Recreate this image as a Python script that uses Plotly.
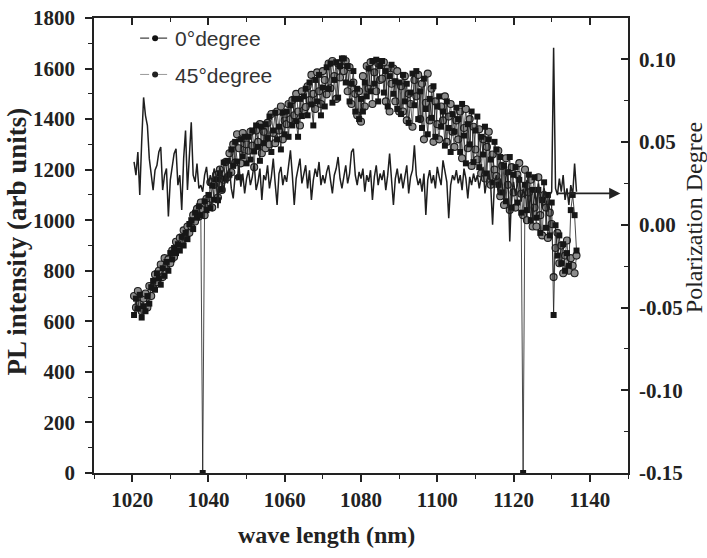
import plotly.graph_objects as go

# ---------------- data ----------------
wl_int = [1020.5 + 0.5 * i for i in range(233)]  # wavelength grid for intensities (nm)

pl_0deg = [
    625, 690, 650, 705, 615, 660, 640, 700, 670, 735,
    760, 725, 790, 770, 745, 810, 780, 835, 800, 870,
    845, 890, 870, 905, 880, 935, 900, 950, 925, 985,
    1000, 965, 1030, 1010, 1055, 1020, 0, 1075, 1040, 1100,
    1048, 1137, 1081, 1162, 1079, 1186, 1121, 1228, 1164, 1235,
    1180, 1280, 1215, 1310, 1232, 1170, 1320, 1252, 1330, 1225,
    1330, 1240, 1355, 1272, 1375, 1290, 1235, 1370, 1305, 1380,
    1325, 1410, 1270, 1355, 1425, 1320, 1370, 1280, 1425, 1340,
    1430, 1330, 1455, 1375, 1480, 1392, 1330, 1480, 1412, 1490,
    1520, 1415, 1545, 1458, 1375, 1555, 1470, 1575, 1415, 1525,
    1450, 1605, 1520, 1620, 1465, 1555, 1625, 1485, 1610, 1640,
    1640, 1545, 1610, 1470, 1540, 1590, 1430, 1520, 1400, 1480,
    1430, 1545, 1490, 1600, 1510, 1630, 1540, 1635, 1470, 1610,
    1630, 1505, 1590, 1450, 1570, 1615, 1500, 1550, 1440, 1545,
    1420, 1575, 1470, 1540, 1385, 1505, 1580, 1455, 1590, 1400,
    1510, 1365, 1560, 1440, 1340, 1480, 1405, 1530, 1330, 1450,
    1490, 1370, 1430, 1295, 1470, 1365, 1270, 1420, 1350, 1445,
    1400, 1270, 1460, 1335, 1225, 1380, 1300, 1430, 1230, 1355,
    1410, 1210, 1330, 1260, 1370, 1185, 1320, 1240, 1150, 1310,
    1280, 1140, 1250, 1110, 1215, 1075, 1190, 1250, 1050, 1180,
    1210, 1070, 1160, 1030, 0, 1140, 1040, 1180, 1000, 1120,
    1170, 1010, 1120, 950, 1080, 1150, 970, 1100, 940, 1070,
    625, 980, 860, 940, 830, 905, 800, 870, 820, 1040,
    1100, 1020, 880,
]

pl_45deg = [
    700, 655, 720, 670, 640, 690, 710, 655, 740, 700,
    735, 785, 755, 800, 825, 775, 850, 820, 845, 830,
    880, 855, 915, 890, 930, 910, 960, 935, 975, 950,
    975, 1020, 995, 1045, 1015, 1070, 1040, 1020, 1085, 1060,
    1150, 1050, 1140, 1180, 1090, 1200, 1120, 1160, 1230, 1170,
    1265, 1190, 1300, 1228, 1340, 1285, 1225, 1345, 1280, 1300,
    1275, 1350, 1295, 1210, 1355, 1310, 1380, 1265, 1350, 1285,
    1385, 1300, 1420, 1345, 1305, 1430, 1355, 1450, 1320, 1395,
    1380, 1460, 1400, 1475, 1415, 1500, 1430, 1375, 1510, 1435,
    1448, 1530, 1475, 1575, 1500, 1440, 1585, 1510, 1460, 1590,
    1555, 1498, 1620, 1522, 1630, 1570, 1480, 1620, 1565, 1605,
    1590, 1630, 1510, 1605, 1460, 1545, 1500, 1415, 1510, 1390,
    1570, 1450, 1610, 1520, 1625, 1460, 1585, 1510, 1620, 1555,
    1560, 1625, 1470, 1600, 1430, 1540, 1600, 1470, 1590, 1430,
    1530, 1430, 1570, 1395, 1500, 1460, 1370, 1555, 1490, 1575,
    1400, 1540, 1320, 1465, 1580, 1395, 1520, 1310, 1470, 1380,
    1320, 1450, 1395, 1490, 1310, 1410, 1460, 1350, 1290, 1395,
    1320, 1430, 1245, 1365, 1440, 1285, 1400, 1215, 1370, 1280,
    1240, 1360, 1185, 1320, 1165, 1290, 1350, 1140, 1260, 1200,
    1175, 1275, 1095, 1215, 1060, 1245, 1140, 1040, 1210, 1110,
    1050, 1180, 1226, 1105, 1020, 1200, 1000, 1110, 1160, 975,
    1050, 975, 1170, 1020, 940, 1100, 1050, 930, 1030, 985,
    775, 890, 950, 830, 900, 790, 860, 920, 800, 850,
    820, 790, 860,
]

wl_pol = [1020.5 + 0.5 * i for i in range(233)]  # wavelength grid for polarization (nm)

pol_degree = [
    0.038, 0.030, 0.044, 0.018, 0.050, 0.077, 0.066, 0.060, 0.040, 0.030,
    0.021, 0.033, 0.036, 0.044, 0.047, 0.021, 0.030, 0.034, 0.005, 0.027,
    0.035, 0.043, 0.046, 0.024, 0.030, 0.009, 0.040, 0.057, 0.021, 0.044,
    0.062, 0.030, 0.026, 0.037, 0.022, 0.024, 0.020, 0.030, 0.035, 0.024,
    0.030, 0.026, 0.034, 0.030, 0.010, 0.035, 0.028, 0.020, 0.031, 0.025,
    0.034, 0.022, 0.016, 0.030, 0.027, 0.036, 0.023, 0.031, 0.019, 0.028,
    0.033, 0.024, 0.029, 0.037, 0.021, 0.026, 0.034, 0.015, 0.030, 0.027,
    0.036, 0.022, 0.029, 0.040, 0.025, 0.012, 0.031, 0.035, 0.024, 0.030,
    0.026, 0.037, 0.045, 0.030, 0.012, 0.028, 0.034, 0.040, 0.025, 0.031,
    0.036, 0.022, 0.033, 0.015, 0.027, 0.034, 0.029, 0.038, 0.024, 0.030,
    0.025, 0.032, 0.036, 0.027, 0.019, 0.030, 0.034, 0.041, 0.028, 0.022,
    0.030, 0.036, 0.025, 0.031, 0.044, 0.046, 0.030, 0.024, 0.032, 0.028,
    0.034, 0.020, 0.030, 0.026, 0.033, 0.015, 0.029, 0.036, 0.024, 0.031,
    0.027, 0.033, 0.021, 0.030, 0.043, 0.029, 0.012, 0.028, 0.034, 0.025,
    0.031, 0.022, 0.030, 0.036, 0.019, 0.029, 0.033, 0.048, 0.030, 0.024,
    0.028, 0.020, 0.031, 0.006, 0.027, 0.033, 0.025, 0.030, 0.022, 0.035,
    0.029, 0.024, 0.039, 0.031, 0.026, 0.004, 0.024, 0.030, 0.027, 0.033,
    0.025, 0.030, 0.021, 0.034, 0.028, 0.016, 0.029, 0.024, 0.031, 0.026,
    0.030, 0.022, 0.028, 0.035, 0.019, 0.027, 0.031, 0.024, 0.000, 0.026,
    0.030, 0.018, 0.028, 0.024, 0.015, 0.029, 0.033, -0.010, 0.020, 0.026,
    0.018, 0.024, 0.030, 0.014, 0.022, 0.016, 0.027, 0.008, 0.020, 0.003,
    0.021, 0.012, 0.025, 0.017, 0.010, 0.022, 0.015, 0.008, 0.018, 0.020,
    0.107, 0.022, 0.018, 0.028, 0.020, 0.030, 0.015, 0.022, 0.012, 0.024,
    0.018, 0.037, 0.020,
]

series_names = ["0°degree", "45°degree"]

x_range = [1010, 1150]
y_range = [0, 1800]
y2_range = [-0.15, 0.125]
y2_tickvals = [-0.15, -0.10, -0.05, 0.00, 0.05, 0.10]
y2_ticktext = ["-0.15", "-0.10", "-0.05", "0.00", "0.05", "0.10"]

arrow_wl = [1131, 1148]
arrow_pol = 0.019

# ---------------- figure ----------------
SERIF = "Liberation Serif, Times New Roman, serif"
SANS = "Liberation Sans, Arial, sans-serif"
INK = "#222222"

fig = go.Figure()

# data traces (legend handled by legend-only traces below)
fig.add_trace(go.Scatter(
    x=wl_int, y=pl_45deg, mode="lines+markers", showlegend=False,
    line=dict(color="#333333", width=0.8),
    marker=dict(symbol="circle", size=7, color="#8c8c8c",
                line=dict(color="#1e1e1e", width=1.1)),
    xaxis="x", yaxis="y",
))
fig.add_trace(go.Scatter(
    x=wl_int, y=pl_0deg, mode="lines+markers", showlegend=False,
    line=dict(color="#1a1a1a", width=0.8),
    marker=dict(symbol="square", size=6, color="#161616"),
    xaxis="x", yaxis="y",
))
fig.add_trace(go.Scatter(
    x=wl_pol, y=pol_degree, mode="lines", showlegend=False,
    line=dict(color="#1e1e1e", width=1.5),
    xaxis="x", yaxis="y2",
))
# legend entries
fig.add_trace(go.Scatter(
    x=[None], y=[None], name=series_names[0], mode="lines+markers",
    legendgroup="g0",
    line=dict(color="#444444", width=1.2, dash="dash"),
    marker=dict(symbol="circle", size=6, color="#111111"),
))
fig.add_trace(go.Scatter(
    x=[None], y=[None], name=series_names[1], mode="lines+markers",
    legendgroup="g1",
    line=dict(color="#999999", width=1.0, dash="dashdot"),
    marker=dict(symbol="circle", size=6, color="#222222"),
))
# dummy trace so the mirrored top axis gets drawn
fig.add_trace(go.Scatter(x=[None], y=[None], xaxis="x2", yaxis="y",
                         showlegend=False, hoverinfo="skip"))

fig.add_annotation(
    x=arrow_wl[1], y=arrow_pol, ax=arrow_wl[0], ay=arrow_pol,
    xref="x", yref="y2", axref="x", ayref="y2",
    text="", showarrow=True, arrowhead=2, arrowsize=1.4, arrowwidth=1.6,
    arrowcolor=INK,
)

# axis titles as annotations (positioned like the reference)
fig.add_annotation(
    text="<b>wave length (nm)</b>", xref="paper", yref="paper",
    x=0.435, y=-0.136, xanchor="center", yanchor="middle", showarrow=False,
    font=dict(family=SERIF, size=24, color=INK),
)
fig.add_annotation(
    text="<b>PL intensity (arb units)</b>", xref="paper", yref="paper",
    x=-0.145, y=0.508, xanchor="center", yanchor="middle", showarrow=False,
    textangle=-90, font=dict(family=SERIF, size=27, color=INK),
)
fig.add_annotation(
    text="Polarization Degree", xref="paper", yref="paper",
    x=1.1236, y=0.560, xanchor="center", yanchor="middle", showarrow=False,
    textangle=-90, font=dict(family=SERIF, size=24, color=INK),
)

TICKFONT = dict(family=SERIF, size=21, color=INK)

fig.update_layout(
    width=707, height=558,
    margin=dict(l=94, r=79, t=18, b=85),
    paper_bgcolor="white", plot_bgcolor="white",
    font=dict(family=SERIF, color=INK),
    showlegend=True,
    legend=dict(
        x=0.077, y=1.0, xanchor="left", yanchor="top",
        bgcolor="rgba(0,0,0,0)", borderwidth=0,
        font=dict(family=SANS, size=21, color="#333333"),
        tracegroupgap=6,
    ),
    xaxis=dict(
        range=x_range, dtick=20, tick0=1020, automargin=False,
        showline=True, linecolor=INK, linewidth=1.5,
        ticks="outside", ticklen=7, tickwidth=1.5, tickcolor=INK,
        minor=dict(dtick=10, tick0=1010, ticks="outside", ticklen=4, tickwidth=1.2, tickcolor=INK),
        showgrid=False, zeroline=False,
        tickfont=TICKFONT, tickprefix="<b>", ticksuffix="</b>",
    ),
    xaxis2=dict(
        range=x_range, dtick=20, tick0=1020, overlaying="x", side="top", anchor="y",
        automargin=False,
        showline=True, linecolor=INK, linewidth=1.5,
        ticks="inside", ticklen=7, tickwidth=1.5, tickcolor=INK,
        minor=dict(dtick=10, tick0=1010, ticks="inside", ticklen=4, tickwidth=1.2, tickcolor=INK),
        showticklabels=False, showgrid=False, zeroline=False,
    ),
    yaxis=dict(
        range=y_range, dtick=200, tick0=0, automargin=False,
        showline=True, linecolor=INK, linewidth=1.5,
        ticks="outside", ticklen=7, tickwidth=1.5, tickcolor=INK,
        minor=dict(dtick=100, ticks="outside", ticklen=4, tickwidth=1.2, tickcolor=INK),
        showgrid=False, zeroline=False, ticklabelstandoff=6,
        tickfont=TICKFONT, tickprefix="<b>", ticksuffix="</b>",
    ),
    yaxis2=dict(
        range=y2_range, overlaying="y", side="right", anchor="x", automargin=False,
        tickmode="array", tickvals=y2_tickvals, ticktext=["<b>" + t + "</b>" for t in y2_ticktext],
        showline=True, linecolor=INK, linewidth=1.5,
        ticks="inside", ticklen=7, tickwidth=1.5, tickcolor=INK,
        minor=dict(tickmode="array", tickvals=[-0.125, -0.075, -0.025, 0.025, 0.075, 0.125],
                   ticks="inside", ticklen=4, tickwidth=1.2, tickcolor=INK),
        showgrid=False, zeroline=False, ticklabelstandoff=5,
        tickfont=TICKFONT,
    ),
)

fig.write_html("out.html", config={"displayModeBar": False},
               post_script="document.body.style.margin='0px';")
